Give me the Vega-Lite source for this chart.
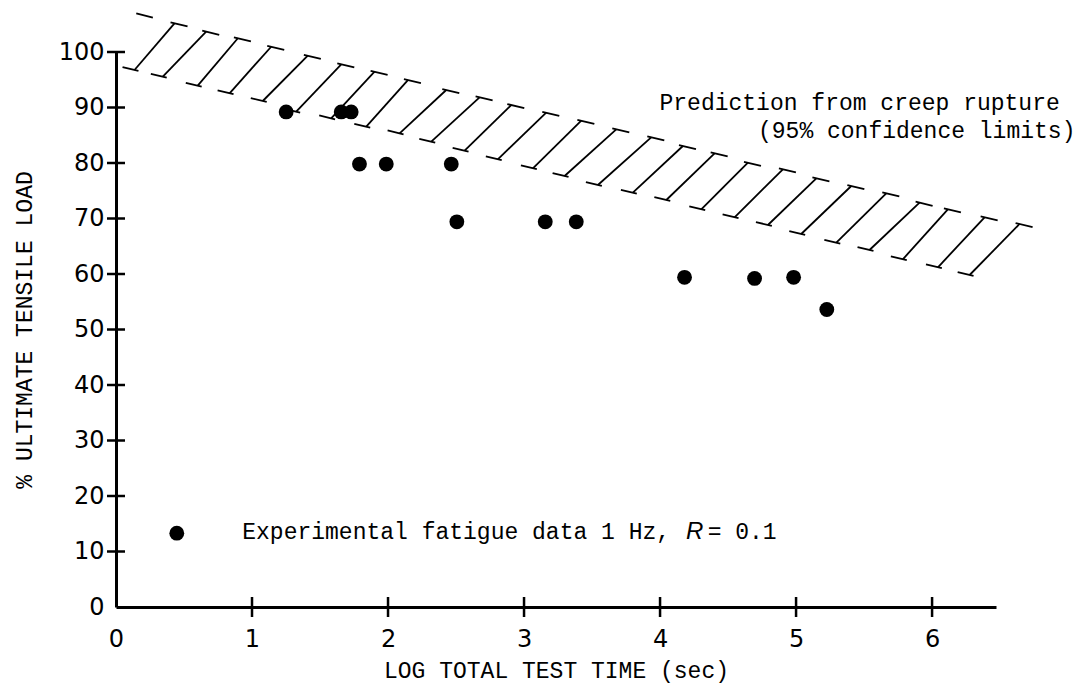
{
  "$schema": "https://vega.github.io/schema/vega-lite/v6.json",
  "width": 880,
  "height": 555,
  "autosize": {"type": "none"},
  "padding": {"left": 116, "top": 52, "right": 83, "bottom": 89},
  "background": "white",
  "config": {"view": {"stroke": null}},
  "datasets": {
    "points": [
      {"x": 1.251, "y": 89.2},
      {"x": 1.656, "y": 89.2},
      {"x": 1.729, "y": 89.2},
      {"x": 1.79, "y": 79.8},
      {"x": 1.987, "y": 79.8},
      {"x": 2.465, "y": 79.8},
      {"x": 2.506, "y": 69.4},
      {"x": 3.156, "y": 69.4},
      {"x": 3.384, "y": 69.4},
      {"x": 4.18, "y": 59.4},
      {"x": 4.695, "y": 59.2},
      {"x": 4.982, "y": 59.4},
      {"x": 5.226, "y": 53.6}
    ],
    "legendDot": [{"x": 0.447, "y": 13.3}],
    "hatch": [
      {"x": 0.149, "y": 106.97, "x2": 0.271, "y2": 106.18},
      {"x": 0.136, "y": 96.76, "x2": 0.43, "y2": 105.17},
      {"x": 0.401, "y": 105.34, "x2": 0.526, "y2": 104.61},
      {"x": 0.048, "y": 97.28, "x2": 0.165, "y2": 96.59},
      {"x": 0.344, "y": 95.55, "x2": 0.663, "y2": 103.66},
      {"x": 0.634, "y": 103.83, "x2": 0.759, "y2": 103.1},
      {"x": 0.256, "y": 96.07, "x2": 0.373, "y2": 95.38},
      {"x": 0.601, "y": 93.93, "x2": 0.896, "y2": 102.47},
      {"x": 0.867, "y": 102.64, "x2": 0.992, "y2": 101.91},
      {"x": 0.513, "y": 94.45, "x2": 0.63, "y2": 93.76},
      {"x": 0.835, "y": 92.56, "x2": 1.141, "y2": 100.95},
      {"x": 1.112, "y": 101.12, "x2": 1.237, "y2": 100.39},
      {"x": 0.747, "y": 93.08, "x2": 0.864, "y2": 92.39},
      {"x": 1.079, "y": 91.17, "x2": 1.41, "y2": 99.33},
      {"x": 1.381, "y": 99.5, "x2": 1.506, "y2": 98.77},
      {"x": 0.991, "y": 91.69, "x2": 1.108, "y2": 91.0},
      {"x": 1.325, "y": 89.24, "x2": 1.656, "y2": 97.78},
      {"x": 1.627, "y": 97.95, "x2": 1.752, "y2": 97.22},
      {"x": 1.237, "y": 89.76, "x2": 1.354, "y2": 89.07},
      {"x": 1.582, "y": 88.05, "x2": 1.901, "y2": 96.45},
      {"x": 1.872, "y": 96.62, "x2": 1.997, "y2": 95.89},
      {"x": 1.494, "y": 88.57, "x2": 1.611, "y2": 87.88},
      {"x": 1.84, "y": 86.54, "x2": 2.146, "y2": 94.95},
      {"x": 2.117, "y": 95.12, "x2": 2.242, "y2": 94.39},
      {"x": 1.752, "y": 87.06, "x2": 1.869, "y2": 86.37},
      {"x": 2.085, "y": 85.35, "x2": 2.428, "y2": 93.15},
      {"x": 2.399, "y": 93.32, "x2": 2.524, "y2": 92.59},
      {"x": 1.997, "y": 85.87, "x2": 2.114, "y2": 85.18},
      {"x": 2.318, "y": 83.84, "x2": 2.673, "y2": 91.84},
      {"x": 2.644, "y": 92.01, "x2": 2.769, "y2": 91.28},
      {"x": 2.23, "y": 84.36, "x2": 2.347, "y2": 83.67},
      {"x": 2.563, "y": 82.22, "x2": 2.906, "y2": 90.45},
      {"x": 2.877, "y": 90.62, "x2": 3.002, "y2": 89.89},
      {"x": 2.475, "y": 82.74, "x2": 2.592, "y2": 82.05},
      {"x": 2.807, "y": 80.67, "x2": 3.163, "y2": 89.06},
      {"x": 3.134, "y": 89.23, "x2": 3.259, "y2": 88.5},
      {"x": 2.719, "y": 81.19, "x2": 2.836, "y2": 80.5},
      {"x": 3.065, "y": 79.05, "x2": 3.421, "y2": 87.62},
      {"x": 3.392, "y": 87.79, "x2": 3.517, "y2": 87.06},
      {"x": 2.977, "y": 79.57, "x2": 3.094, "y2": 78.88},
      {"x": 3.298, "y": 77.66, "x2": 3.678, "y2": 86.07},
      {"x": 3.649, "y": 86.24, "x2": 3.774, "y2": 85.51},
      {"x": 3.21, "y": 78.18, "x2": 3.327, "y2": 77.49},
      {"x": 3.543, "y": 76.04, "x2": 3.935, "y2": 84.63},
      {"x": 3.906, "y": 84.8, "x2": 4.031, "y2": 84.07},
      {"x": 3.455, "y": 76.56, "x2": 3.572, "y2": 75.87},
      {"x": 3.8, "y": 74.65, "x2": 4.168, "y2": 83.06},
      {"x": 4.139, "y": 83.23, "x2": 4.264, "y2": 82.5},
      {"x": 3.712, "y": 75.17, "x2": 3.829, "y2": 74.48},
      {"x": 4.046, "y": 73.33, "x2": 4.401, "y2": 81.75},
      {"x": 4.372, "y": 81.92, "x2": 4.497, "y2": 81.19},
      {"x": 3.958, "y": 73.85, "x2": 4.075, "y2": 73.16},
      {"x": 4.303, "y": 71.66, "x2": 4.646, "y2": 80.05},
      {"x": 4.617, "y": 80.22, "x2": 4.742, "y2": 79.49},
      {"x": 4.215, "y": 72.18, "x2": 4.332, "y2": 71.49},
      {"x": 4.548, "y": 70.22, "x2": 4.903, "y2": 78.86},
      {"x": 4.874, "y": 79.03, "x2": 4.999, "y2": 78.3},
      {"x": 4.46, "y": 70.74, "x2": 4.577, "y2": 70.05},
      {"x": 4.793, "y": 68.83, "x2": 5.149, "y2": 77.24},
      {"x": 5.12, "y": 77.41, "x2": 5.245, "y2": 76.68},
      {"x": 4.705, "y": 69.35, "x2": 4.822, "y2": 68.66},
      {"x": 5.038, "y": 67.21, "x2": 5.406, "y2": 75.86},
      {"x": 5.377, "y": 76.03, "x2": 5.502, "y2": 75.3},
      {"x": 4.95, "y": 67.73, "x2": 5.067, "y2": 67.04},
      {"x": 5.296, "y": 65.64, "x2": 5.663, "y2": 74.54},
      {"x": 5.634, "y": 74.71, "x2": 5.759, "y2": 73.98},
      {"x": 5.208, "y": 66.16, "x2": 5.325, "y2": 65.47},
      {"x": 5.54, "y": 64.32, "x2": 5.908, "y2": 72.85},
      {"x": 5.879, "y": 73.02, "x2": 6.004, "y2": 72.29},
      {"x": 5.452, "y": 64.84, "x2": 5.569, "y2": 64.15},
      {"x": 5.785, "y": 62.65, "x2": 6.116, "y2": 71.66},
      {"x": 6.087, "y": 71.83, "x2": 6.212, "y2": 71.1},
      {"x": 5.697, "y": 63.17, "x2": 5.814, "y2": 62.48},
      {"x": 6.043, "y": 61.21, "x2": 6.386, "y2": 70.22},
      {"x": 6.357, "y": 70.39, "x2": 6.482, "y2": 69.66},
      {"x": 5.955, "y": 61.73, "x2": 6.072, "y2": 61.04},
      {"x": 6.276, "y": 59.82, "x2": 6.643, "y2": 69.01},
      {"x": 6.614, "y": 69.18, "x2": 6.739, "y2": 68.45},
      {"x": 6.188, "y": 60.34, "x2": 6.305, "y2": 59.65}
    ],
    "yTicks": [
      {"x": 0, "y": 10}, {"x": 0, "y": 20}, {"x": 0, "y": 30}, {"x": 0, "y": 40}, {"x": 0, "y": 50},
      {"x": 0, "y": 60}, {"x": 0, "y": 70}, {"x": 0, "y": 80}, {"x": 0, "y": 90}, {"x": 0, "y": 100}
    ],
    "xTicks": [
      {"x": 1, "y": 0}, {"x": 2, "y": 0}, {"x": 3, "y": 0}, {"x": 4, "y": 0}, {"x": 5, "y": 0}, {"x": 6, "y": 0}
    ],
    "monoText": [
      {"x": 3.996, "y": 90.8, "text": "Prediction from creep rupture"},
      {"x": 4.72, "y": 85.8, "text": "(95% confidence limits)"},
      {"x": 0.928, "y": 13.6, "text": "Experimental fatigue data 1 Hz,"},
      {"x": 4.35, "y": 13.6, "text": "= 0.1"}
    ],
    "italicText": [
      {"x": 4.19, "y": 13.6, "text": "R"}
    ]
  },
  "encoding": {
    "x": {
      "field": "x",
      "type": "quantitative",
      "scale": {"domain": [0, 6.47], "nice": false, "zero": false},
      "axis": {
        "title": "LOG TOTAL TEST TIME (sec)",
        "values": [0, 1, 2, 3, 4, 5, 6],
        "format": "d",
        "grid": false,
        "ticks": false,
        "domainColor": "black",
        "domainWidth": 3,
        "labelFont": "DejaVu Sans",
        "labelFontSize": 24,
        "labelColor": "black",
        "labelPadding": 20,
        "labelFlush": false,
        "titleFont": "Liberation Mono",
        "titleFontSize": 23,
        "titleFontWeight": "normal",
        "titleColor": "black",
        "titlePadding": 8
      }
    },
    "y": {
      "field": "y",
      "type": "quantitative",
      "scale": {"domain": [0, 100], "nice": false, "zero": false},
      "axis": {
        "title": "% ULTIMATE TENSILE LOAD",
        "values": [0, 10, 20, 30, 40, 50, 60, 70, 80, 90, 100],
        "grid": false,
        "ticks": false,
        "domainColor": "black",
        "domainWidth": 3,
        "labelFont": "DejaVu Sans",
        "labelFontSize": 24,
        "labelColor": "black",
        "labelPadding": 12,
        "labelFlush": false,
        "titleFont": "Liberation Mono",
        "titleFontSize": 23,
        "titleFontWeight": "normal",
        "titleColor": "black",
        "titlePadding": 22
      }
    }
  },
  "layer": [
    {
      "data": {"name": "hatch"},
      "mark": {"type": "rule", "color": "black", "strokeWidth": 1.8},
      "encoding": {
        "x2": {"field": "x2"},
        "y2": {"field": "y2"}
      }
    },
    {
      "data": {"name": "yTicks"},
      "mark": {"type": "tick", "orient": "horizontal", "color": "black", "size": 18, "thickness": 2.5, "opacity": 1}
    },
    {
      "data": {"name": "xTicks"},
      "mark": {"type": "tick", "orient": "vertical", "color": "black", "size": 20, "thickness": 2.5, "opacity": 1}
    },
    {
      "data": {"name": "points"},
      "mark": {"type": "circle", "color": "black", "size": 220, "opacity": 1}
    },
    {
      "data": {"name": "legendDot"},
      "mark": {"type": "circle", "color": "black", "size": 220, "opacity": 1}
    },
    {
      "data": {"name": "monoText"},
      "mark": {"type": "text", "font": "Liberation Mono", "fontSize": 23, "align": "left", "baseline": "middle", "color": "black"},
      "encoding": {"text": {"field": "text"}}
    },
    {
      "data": {"name": "italicText"},
      "mark": {"type": "text", "font": "Liberation Sans", "fontStyle": "italic", "fontSize": 24, "align": "left", "baseline": "middle", "color": "black"},
      "encoding": {"text": {"field": "text"}}
    }
  ]
}
